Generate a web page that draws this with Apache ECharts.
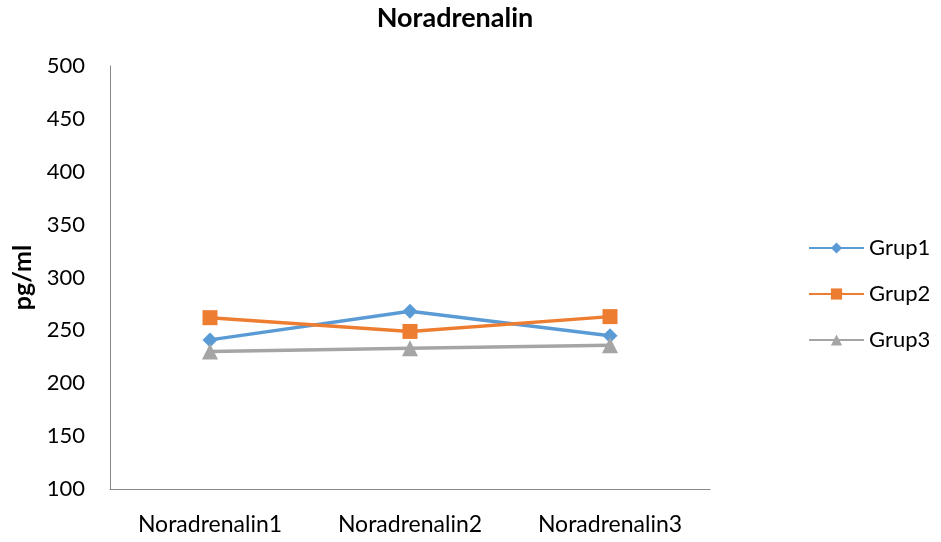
<!DOCTYPE html>
<html><head><meta charset="utf-8">
<script src="https://cdn.jsdelivr.net/npm/echarts@6/dist/echarts.min.js"></script>
<style>html,body{margin:0;padding:0;background:#fff}#c{width:941px;height:542px}</style>
</head><body><div id="c"></div>
<script>
const categories = ['Noradrenalin1', 'Noradrenalin2', 'Noradrenalin3'];
const grup1 = [241, 268, 245];
const grup2 = [262, 249, 263];
const grup3 = [230, 233, 236];
const seriesNames = ['Grup1', 'Grup2', 'Grup3'];
const colors = ['#5B9BD5', '#ED7D31', '#A5A5A5'];
const symbols = ['diamond', 'rect', 'triangle'];
const data = [grup1, grup2, grup3];
const font = 'Lato, "Open Sans", sans-serif';

const chart = echarts.init(document.getElementById('c'));
chart.setOption({
  animation: false,
  title: { text: 'Noradrenalin', left: 450, textAlign: 'center', top: 0,
    textStyle: { fontFamily: font, fontSize: 27, fontWeight: 'bold', color: '#000' } },
  grid: { left: 110, right: 231, top: 66, bottom: 53 },
  legend: {
    orient: 'vertical', left: 803, top: 232, itemGap: 24, itemWidth: 55, itemHeight: 14,
    textStyle: { fontFamily: font, fontSize: 22, lineHeight: 22, color: '#000' },
    data: seriesNames
  },
  xAxis: {
    type: 'category', data: categories, boundaryGap: true,
    axisLine: { lineStyle: { color: '#868686', width: 1 } },
    axisTick: { show: false },
    axisLabel: { fontFamily: font, fontSize: 23, color: '#000', margin: 24 }
  },
  yAxis: {
    type: 'value', min: 100, max: 500, interval: 50,
    name: 'pg/ml', nameLocation: 'middle', nameGap: 74, nameRotate: 90,
    nameTextStyle: { fontFamily: font, fontSize: 25, fontWeight: 'bold', color: '#000' },
    axisLine: { show: true, lineStyle: { color: '#868686', width: 1 } },
    axisTick: { show: false },
    splitLine: { show: false },
    axisLabel: { fontFamily: font, fontSize: 22, color: '#000', margin: 25 }
  },
  series: data.map((d, i) => ({
    name: seriesNames[i], type: 'line', data: d,
    symbol: symbols[i], symbolSize: [15, 15, 16][i],
    lineStyle: { width: 3.5, color: colors[i] },
    itemStyle: { color: colors[i] }
  }))
});
</script></body></html>
